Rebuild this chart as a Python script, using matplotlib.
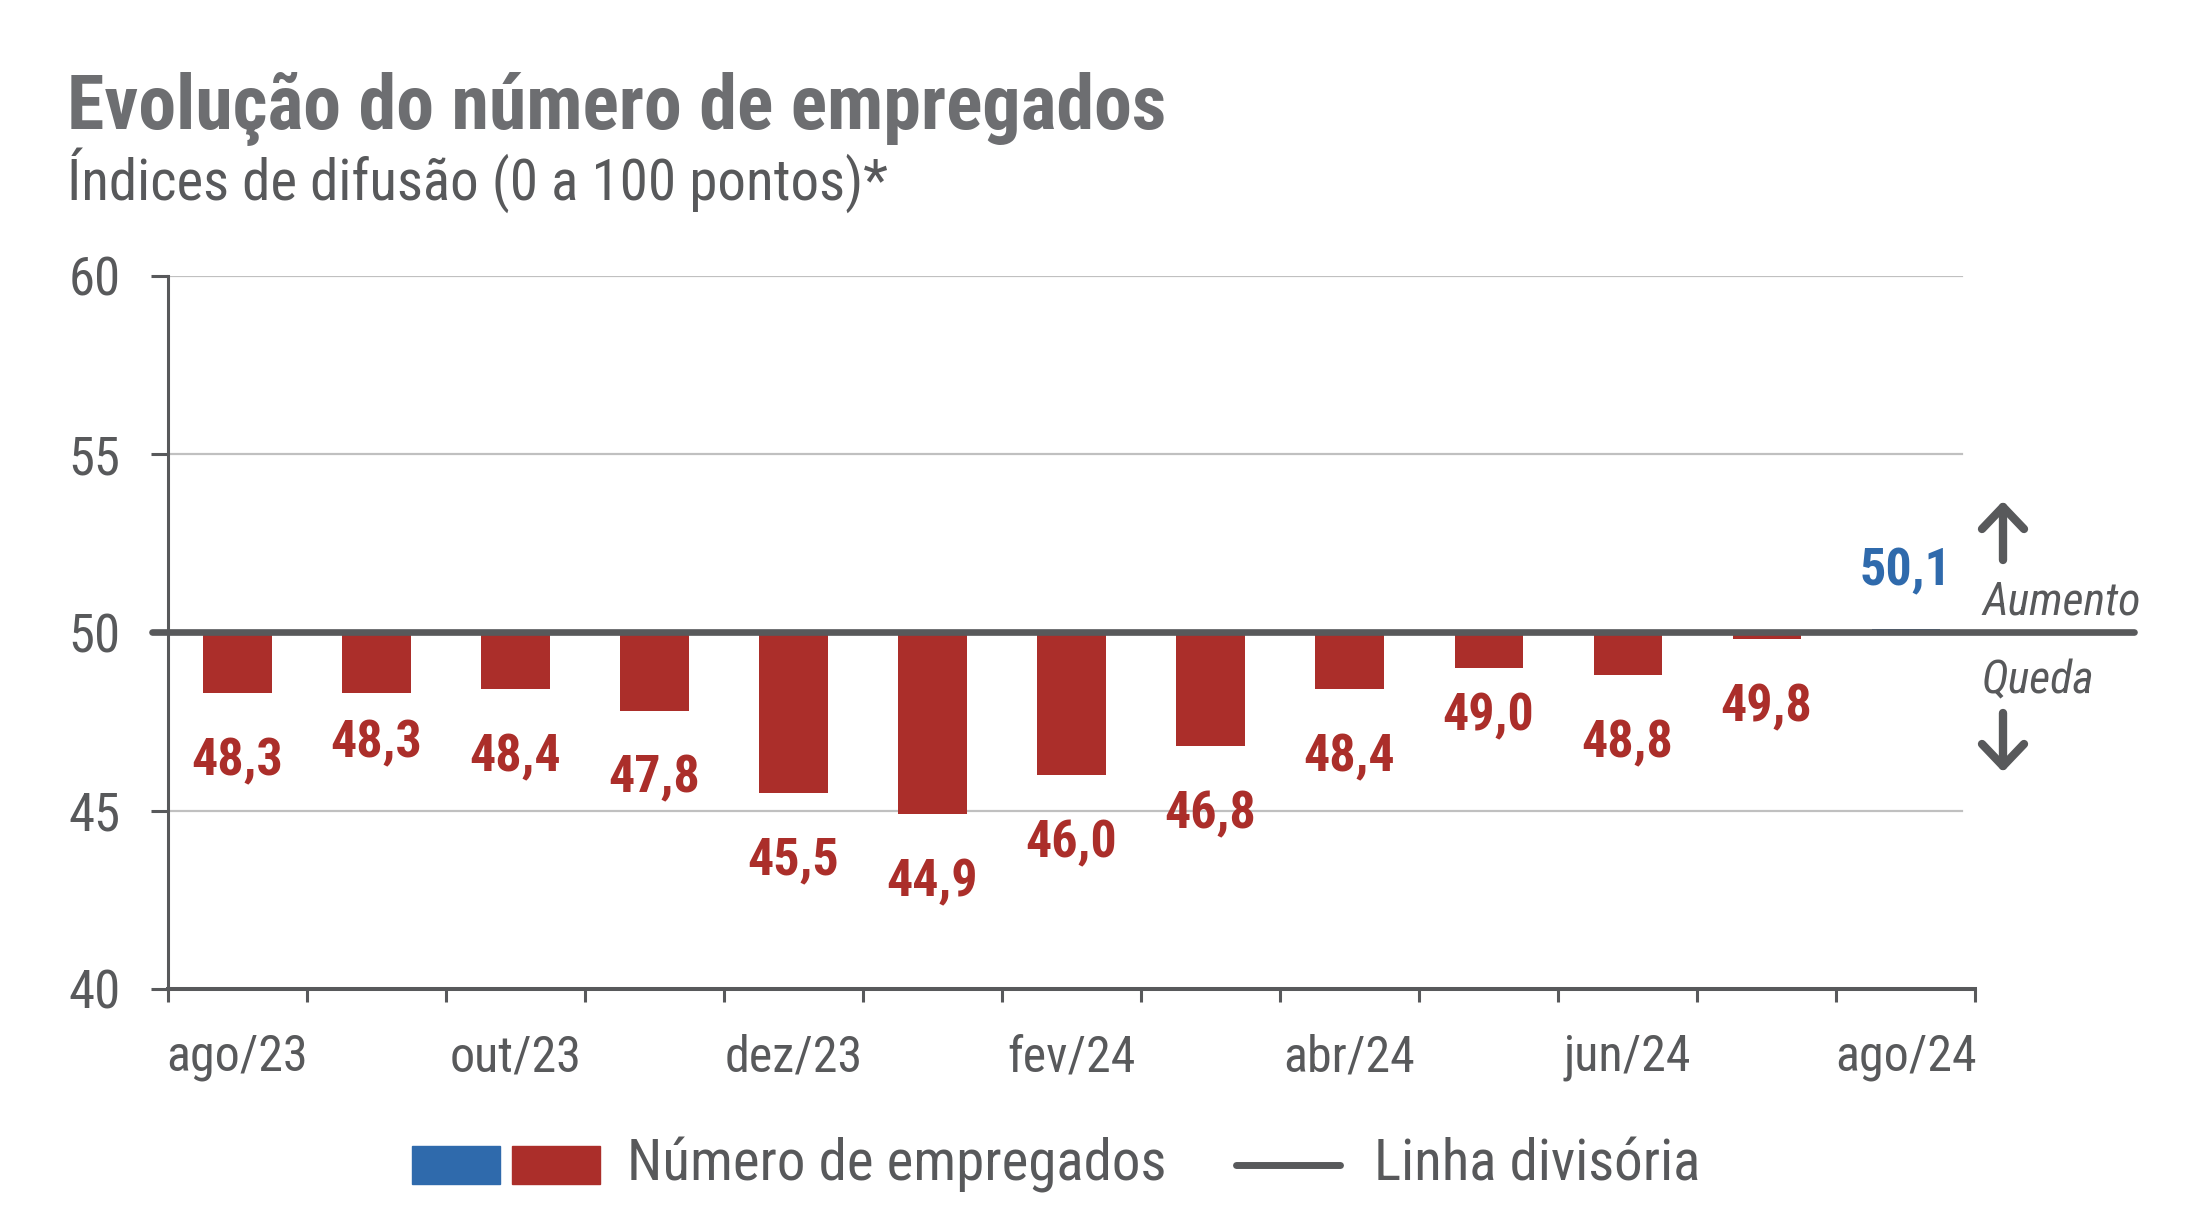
import matplotlib
matplotlib.use("Agg")
import matplotlib.pyplot as plt
from matplotlib.lines import Line2D
from matplotlib.patches import Rectangle

plt.rcParams["font.family"] = ["Liberation Sans Narrow", "Roboto Condensed", "DejaVu Sans"]

# ---------------------------------------------------------------- data
MONTHS = ["ago/23", "set/23", "out/23", "nov/23", "dez/23", "jan/24", "fev/24",
          "mar/24", "abr/24", "mai/24", "jun/24", "jul/24", "ago/24"]
VALUES = [48.3, 48.3, 48.4, 47.8, 45.5, 44.9, 46.0, 46.8, 48.4, 49.0, 48.8, 49.8, 50.1]
DIVIDER = 50.0
Y_TICKS = [40, 45, 50, 55, 60]

TITLE = "Evolução do número de empregados"
SUBTITLE = "Índices de difusão (0 a 100 pontos)*"

RED = "#AB2E2A"
BLUE = "#2F6AAC"
GRAY = "#58595B"
TITLE_GRAY = "#6D6E71"
GRID = "#C0C0C0"

W, H = 2196, 1218

# small manual lifts of some value labels (points), as in the original layout
label_lift = [0, 13, 0, 0, 0, 0, 0, 0, 0, 14, 0, 0, 0]


def fx(px):
    return px / W


def fy(py):
    return 1 - py / H


fig = plt.figure(figsize=(W / 100, H / 100), dpi=100)
ax = fig.add_axes([0.0765, 0.1882, 0.8229, 0.5853])

x = list(range(len(VALUES)))
colors = [BLUE if v >= DIVIDER else RED for v in VALUES]
ax.bar(x, [v - DIVIDER for v in VALUES], bottom=DIVIDER, width=0.49,
       color=colors, zorder=2)

# divider line, running a bit past the axes on both sides
ax.plot([-0.009, 1.088], [DIVIDER, DIVIDER], transform=ax.get_yaxis_transform(),
        color=GRAY, lw=4.8, solid_capstyle="round", clip_on=False, zorder=3)

for y in Y_TICKS:
    if y not in (40, DIVIDER):
        ax.axhline(y, xmax=0.993, color=GRID, lw=1.6, zorder=1)

ax.set_xlim(-0.5, len(VALUES) - 0.5)
ax.set_ylim(40, 60)

ax.set_xticks([i - 0.5 for i in range(len(VALUES) + 1)])
ax.set_xticklabels([])
ax.set_xticks(x[::2], minor=True)
ax.set_xticklabels(MONTHS[::2], minor=True, fontsize=36, color=GRAY)
ax.tick_params(axis="x", which="major", length=9.5, width=2.2, color=GRAY)
ax.tick_params(axis="x", which="minor", length=0, pad=32)

ax.set_yticks(Y_TICKS)
ax.set_yticklabels([str(t) for t in Y_TICKS], fontsize=38, color=GRAY)
ax.tick_params(axis="y", length=12, width=2.2, color=GRAY, pad=22)

for s in ("top", "right"):
    ax.spines[s].set_visible(False)
ax.spines["left"].set_color(GRAY)
ax.spines["left"].set_linewidth(2.2)
ax.spines["bottom"].set_color(GRAY)
ax.spines["bottom"].set_linewidth(2.9)

for i, v in enumerate(VALUES):
    up = v >= DIVIDER
    off = 41 if up else -49 + label_lift[i]
    ax.annotate(f"{v:.1f}".replace(".", ","), (i, v), xytext=(0, off),
                textcoords="offset points", ha="center", va="center",
                fontsize=37.5, fontweight="bold", color=BLUE if up else RED,
                zorder=4)

# titles
fig.text(fx(67), fy(129), TITLE, fontsize=54.6, fontweight="bold",
         color=TITLE_GRAY, va="baseline")
fig.text(fx(67), fy(200), SUBTITLE, fontsize=41, color=GRAY, va="baseline")

# Aumento / Queda with arrows
fig.text(fx(1982), fy(614), "Aumento", fontsize=33, style="italic",
         color=GRAY, va="baseline")
fig.text(fx(1982), fy(693), "Queda", fontsize=33, style="italic",
         color=GRAY, va="baseline")
ac = 2003
for shaft, head in (((560, 507), 507), ((713, 766), 766)):
    fig.add_artist(Line2D([fx(ac), fx(ac)], [fy(shaft[0]), fy(shaft[1])],
                          color=GRAY, lw=6, solid_capstyle="round"))
    d = 22 if head == 507 else -22
    fig.add_artist(Line2D([fx(ac - 21), fx(ac), fx(ac + 21)],
                          [fy(head + d), fy(head), fy(head + d)],
                          color=GRAY, lw=6, solid_capstyle="round",
                          solid_joinstyle="round"))

# legend
ly = 1165
fig.add_artist(Rectangle((fx(412), fy(1184)), fx(500) - fx(412), fy(1146) - fy(1184),
                         color=BLUE, transform=fig.transFigure))
fig.add_artist(Rectangle((fx(512), fy(1184)), fx(600) - fx(512), fy(1146) - fy(1184),
                         color=RED, transform=fig.transFigure))
fig.text(fx(627), fy(ly), "Número de empregados", fontsize=41, color=GRAY,
         va="center")
fig.add_artist(Line2D([fx(1236), fx(1340)], [fy(ly), fy(ly)], color=GRAY,
                      lw=5, solid_capstyle="round"))
fig.text(fx(1374), fy(ly), "Linha divisória", fontsize=41, color=GRAY,
         va="center")

fig.savefig("out.png", dpi=100)
